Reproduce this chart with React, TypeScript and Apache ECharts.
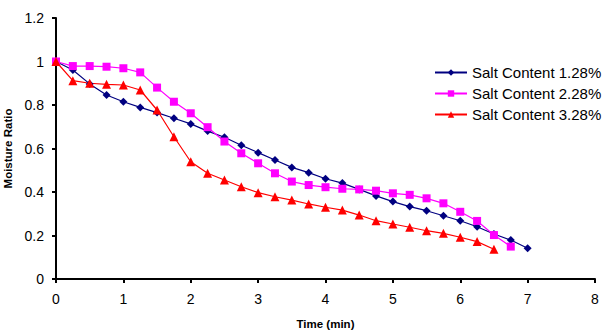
import React, { useEffect, useRef } from "react";
import * as echarts from "echarts";

const times1 = [0, 0.25, 0.5, 0.75, 1, 1.25, 1.5, 1.75, 2, 2.25, 2.5, 2.75, 3, 3.25, 3.5, 3.75, 4, 4.25, 4.5, 4.75, 5, 5.25, 5.5, 5.75, 6, 6.25, 6.5, 6.75, 7];
const salt128 = [1.0, 0.961, 0.897, 0.846, 0.815, 0.789, 0.765, 0.739, 0.713, 0.68, 0.652, 0.615, 0.581, 0.547, 0.513, 0.489, 0.461, 0.441, 0.412, 0.382, 0.356, 0.333, 0.314, 0.291, 0.268, 0.24, 0.207, 0.179, 0.141];
const salt228 = [1.0, 0.979, 0.979, 0.976, 0.969, 0.95, 0.88, 0.815, 0.762, 0.698, 0.632, 0.578, 0.532, 0.486, 0.448, 0.432, 0.422, 0.415, 0.412, 0.406, 0.394, 0.387, 0.371, 0.348, 0.309, 0.267, 0.202, 0.149];
const salt328 = [1.0, 0.912, 0.9, 0.895, 0.892, 0.869, 0.777, 0.654, 0.539, 0.486, 0.455, 0.424, 0.397, 0.378, 0.363, 0.345, 0.33, 0.317, 0.294, 0.268, 0.253, 0.238, 0.222, 0.21, 0.192, 0.172, 0.137];
const seriesNames = ["Salt Content 1.28%", "Salt Content 2.28%", "Salt Content 3.28%"];

const pairs = (vals: number[]) => vals.map((v, i) => [times1[i], v]);

export default function App() {
  const ref = useRef<HTMLDivElement>(null);
  useEffect(() => {
    if (!ref.current) return;
    const chart = echarts.init(ref.current, undefined, { renderer: "svg" });
    const font = "Liberation Sans, Arial, sans-serif";
    chart.setOption({
      animation: false,
      backgroundColor: "#fff",
      textStyle: { fontFamily: font },
      grid: { left: 56, right: 15, top: 18, bottom: 55, containLabel: false, outerBoundsMode: "none" },
      legend: {
        orient: "vertical",
        left: 434,
        top: 65,
        padding: 0,
        itemWidth: 32,
        itemHeight: 8,
        itemGap: 6,
        textStyle: { fontSize: 15, color: "#000", fontFamily: font },
        data: seriesNames,
      },
      xAxis: {
        type: "value",
        min: 0,
        max: 8,
        interval: 1,
        name: "Time (min)",
        nameLocation: "middle",
        nameGap: 39,
        nameTextStyle: { fontWeight: "bold", fontSize: 11.5, color: "#000", fontFamily: font },
        axisLine: { lineStyle: { color: "#000", width: 2 } },
        axisTick: { show: true, inside: false, length: 4, lineStyle: { color: "#000", width: 2 } },
        axisLabel: { color: "#000", fontSize: 14, margin: 13, fontFamily: font },
        splitLine: { show: false },
      },
      yAxis: {
        type: "value",
        min: 0,
        max: 1.2,
        interval: 0.2,
        name: "Moisture Ratio",
        nameLocation: "middle",
        nameGap: 41,
        nameTextStyle: { fontWeight: "bold", fontSize: 11.5, color: "#000", fontFamily: font },
        axisLine: { show: true, lineStyle: { color: "#000", width: 2 } },
        axisTick: { show: true, inside: false, length: 4, lineStyle: { color: "#000", width: 2 } },
        axisLabel: { color: "#000", fontSize: 14, margin: 12, fontFamily: font },
        splitLine: { show: false },
      },
      series: [
        {
          name: seriesNames[0],
          type: "line",
          data: pairs(salt128),
          symbol: "diamond",
          symbolSize: 8,
          lineStyle: { color: "#000080", width: 1.2 },
          itemStyle: { color: "#000080" },
        },
        {
          name: seriesNames[1],
          type: "line",
          data: pairs(salt228),
          symbol: "rect",
          symbolSize: 8,
          lineStyle: { color: "#FF00FF", width: 1.2 },
          itemStyle: { color: "#FF00FF" },
        },
        {
          name: seriesNames[2],
          type: "line",
          data: pairs(salt328),
          symbol: "triangle",
          symbolSize: 9,
          lineStyle: { color: "#FF0000", width: 1.2 },
          itemStyle: { color: "#FF0000" },
        },
      ],
    });
    return () => chart.dispose();
  }, []);
  return (
    <div
      ref={ref}
      style={{ position: "fixed", left: 0, top: 0, width: 610, height: 334, background: "#fff" }}
    />
  );
}
